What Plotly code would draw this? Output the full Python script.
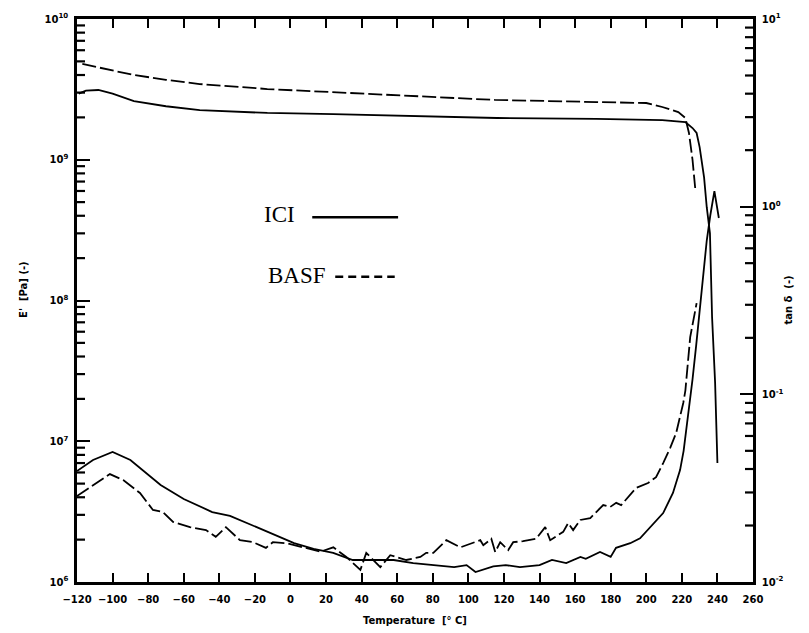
import plotly.graph_objects as go

# ---- data ----
# Storage modulus E' [Pa] (left axis)
ici_E_T = [-119, -115, -108, -100, -88, -70, -51, -30, -13, 24, 71, 116, 172, 209, 222, 226, 228.3, 230, 232.5, 234, 235.8, 237, 238.7, 240]
ici_E = [2.95e9, 3.1e9, 3.13e9, 2.95e9, 2.61e9, 2.4e9, 2.25e9, 2.18e9, 2.15e9, 2.11e9, 2.05e9, 1.98e9, 1.95e9, 1.91e9, 1.85e9, 1.68e9, 1.55e9, 1.23e9, 7.5e8, 4.6e8, 3.0e8, 7.6e7, 2.6e7, 7.0e6]

basf_E_T = [-117, -100, -88, -70, -51, -13, 24, 65, 115, 172, 200, 209, 218, 222, 224, 226, 227.5]
basf_E = [4.79e9, 4.3e9, 4.0e9, 3.7e9, 3.45e9, 3.18e9, 3.03e9, 2.84e9, 2.66e9, 2.57e9, 2.53e9, 2.37e9, 2.18e9, 1.98e9, 1.55e9, 1.0e9, 6.3e8]

# Loss factor tan delta (right axis)
ici_tan_T = [-120, -111, -100, -90, -73, -60, -44, -34, -19, -5, 2, 13, 24, 35, 47, 58, 69, 80, 92, 99, 104, 114,
             121, 129, 140, 147, 155, 163, 166, 174, 180, 183, 191, 196.5, 202, 209.5, 215, 219, 221, 223, 226, 228,
             231, 234, 236, 238.3, 240.8]
ici_tan = [0.039, 0.0447, 0.0493, 0.0447, 0.0329, 0.0277, 0.0236, 0.0225, 0.0196, 0.0171, 0.0161, 0.0150, 0.0143,
           0.0131, 0.0131, 0.0131, 0.0126, 0.0123, 0.0120, 0.0123, 0.0113, 0.0121, 0.0123, 0.0120, 0.0123, 0.0131,
           0.0126, 0.0136, 0.0133, 0.01445, 0.0136, 0.0152, 0.0161, 0.0171, 0.0194, 0.0233, 0.0298, 0.0395, 0.050,
           0.070, 0.12, 0.18, 0.36, 0.66, 0.9, 1.21, 0.87]

basf_tan_T = [-120, -111, -101.5, -94, -84.6, -77.3, -71.7, -66, -56.5, -47.5, -42, -36.3, -28.4, -21, -13.8, -9.9,
              -2.3, 7.2, 16.8, 24.1, 31.4, 39.3, 42.6, 50.5, 56.1, 65.1, 73, 76.3, 80.3, 87.6, 95.5, 106.7, 108.4,
              112.9, 115.1, 117.9, 122.4, 125.2, 130.8, 138.1, 143.2, 146, 153.3, 156.1, 158.9, 162.9, 168.5, 171.9,
              175.8, 179.7, 183.1, 185.9, 190.8, 194.3, 201, 205.5, 209.5, 213.4, 216.8, 220.8, 222, 224.7, 228.3]
basf_tan = [0.0287, 0.0329, 0.0376, 0.0349, 0.0298, 0.0242, 0.0236, 0.0209, 0.0196, 0.0189, 0.0174, 0.0196, 0.0167,
            0.0163, 0.0152, 0.0163, 0.0161, 0.0153, 0.0145, 0.0153, 0.0136, 0.0116, 0.0143, 0.0120, 0.0139, 0.0131,
            0.0136, 0.0143, 0.0143, 0.0167, 0.0153, 0.0167, 0.0157, 0.0170, 0.01445, 0.0163, 0.0148, 0.0163, 0.0165,
            0.0170, 0.0196, 0.0167, 0.0185, 0.0206, 0.0189, 0.0214, 0.0219, 0.0236, 0.0257, 0.0251, 0.0264, 0.0257,
            0.0291, 0.0317, 0.0337, 0.0362, 0.0430, 0.0517, 0.0622, 0.0899, 0.105, 0.202, 0.306]

x_ticks = list(range(-120, 261, 20))
left_exp = [6, 7, 8, 9, 10]
right_exp = [-2, -1, 0, 1]
minor_digits = [2, 3, 4, 5, 6, 7, 8, 9]

X_MIN, X_MAX = -120, 260

# ---- figure ----
line_solid = dict(color="black", width=1.8)
line_dash = dict(color="black", width=1.8, dash="14px,4px")

fig = go.Figure()
fig.add_trace(go.Scatter(x=ici_E_T, y=ici_E, mode="lines", line=line_solid, yaxis="y", name="ICI E'"))
fig.add_trace(go.Scatter(x=basf_E_T, y=basf_E, mode="lines", line=line_dash, yaxis="y", name="BASF E'"))
fig.add_trace(go.Scatter(x=ici_tan_T, y=ici_tan, mode="lines", line=line_solid, yaxis="y2", name="ICI tan d"))
fig.add_trace(go.Scatter(x=basf_tan_T, y=basf_tan, mode="lines", line=line_dash, yaxis="y2", name="BASF tan d"))

# minor log ticks (2..9 in each decade), pointing into the plot, drawn in axis units
plot_w = 809 - 77 - 56
tick_dx = 8.0 / plot_w * (X_MAX - X_MIN)


def minor_tick_xy(exps, x_from, x_to):
    xs, ys = [], []
    for e in exps[:-1]:
        for m in minor_digits:
            v = m * 10.0 ** e
            xs += [x_from, x_to, None]
            ys += [v, v, None]
    return xs, ys


lx, ly = minor_tick_xy(left_exp, X_MIN, X_MIN + tick_dx)
rx, ry = minor_tick_xy(right_exp, X_MAX - tick_dx, X_MAX)
fig.add_trace(go.Scatter(x=lx, y=ly, mode="lines", line=dict(color="black", width=2.2), yaxis="y",
                         hoverinfo="skip", connectgaps=False))
fig.add_trace(go.Scatter(x=rx, y=ry, mode="lines", line=dict(color="black", width=2.2), yaxis="y2",
                         hoverinfo="skip", connectgaps=False))

tickfont = dict(family="DejaVu Sans", size=10, color="black", weight="bold")


def major_axis(exps, **kw):
    d = dict(
        type="log", range=[exps[0], exps[-1]], tickmode="array",
        tickvals=[10.0 ** e for e in exps],
        ticktext=[f"10<sup>{e}</sup>" for e in exps],
        ticks="inside", ticklen=13, tickwidth=2.2, tickcolor="black",
        showline=True, linewidth=2.5, linecolor="black",
        showgrid=False, zeroline=False, tickfont=tickfont, ticklabelstandoff=4,
    )
    d.update(kw)
    return d


fig.update_layout(
    width=809, height=633,
    margin=dict(l=77, r=56, t=19, b=51),
    paper_bgcolor="white", plot_bgcolor="white",
    showlegend=False,
    xaxis=dict(
        range=[X_MIN, X_MAX], tickmode="array", tickvals=x_ticks,
        ticks="inside", ticklen=9, tickwidth=2.2, tickcolor="black",
        showline=True, linewidth=2.5, linecolor="black", mirror="ticks",
        showgrid=False, zeroline=False, tickfont=tickfont, ticklabelstandoff=6,
    ),
    yaxis=major_axis(left_exp),
    yaxis2=major_axis(right_exp, overlaying="y", side="right", anchor="x"),
)

title_font = dict(family="DejaVu Sans", size=10, color="black", weight="bold")
fig.add_annotation(text="Temperature  [° C]", xref="paper", yref="paper", x=0.5, y=-0.069,
                   showarrow=False, font=title_font, yanchor="middle")
fig.add_annotation(text="E'  [Pa] (-)", xref="paper", yref="paper", x=-0.09, y=0.52,
                   showarrow=False, font=title_font, textangle=-90)
fig.add_annotation(text="tan δ  (-)", xref="paper", yref="paper", x=1.063, y=0.5,
                   showarrow=False, font=title_font, textangle=-90)

# legend drawn as text + sample lines
legend_font = dict(family="Liberation Serif", size=23, color="black")
fig.add_annotation(text="ICI", xref="paper", yref="paper", x=0.325, y=0.652,
                   xanchor="right", showarrow=False, font=legend_font)
fig.add_annotation(text="BASF", xref="paper", yref="paper", x=0.371, y=0.545,
                   xanchor="right", showarrow=False, font=legend_font)
fig.add_shape(type="line", xref="paper", yref="paper", x0=0.348, x1=0.475, y0=0.648, y1=0.648,
              line=dict(color="black", width=2.5))
fig.add_shape(type="line", xref="paper", yref="paper", x0=0.382, x1=0.470, y0=0.542, y1=0.542,
              line=dict(color="black", width=2.5, dash="8px,5px"))

fig.write_html("out.html")
